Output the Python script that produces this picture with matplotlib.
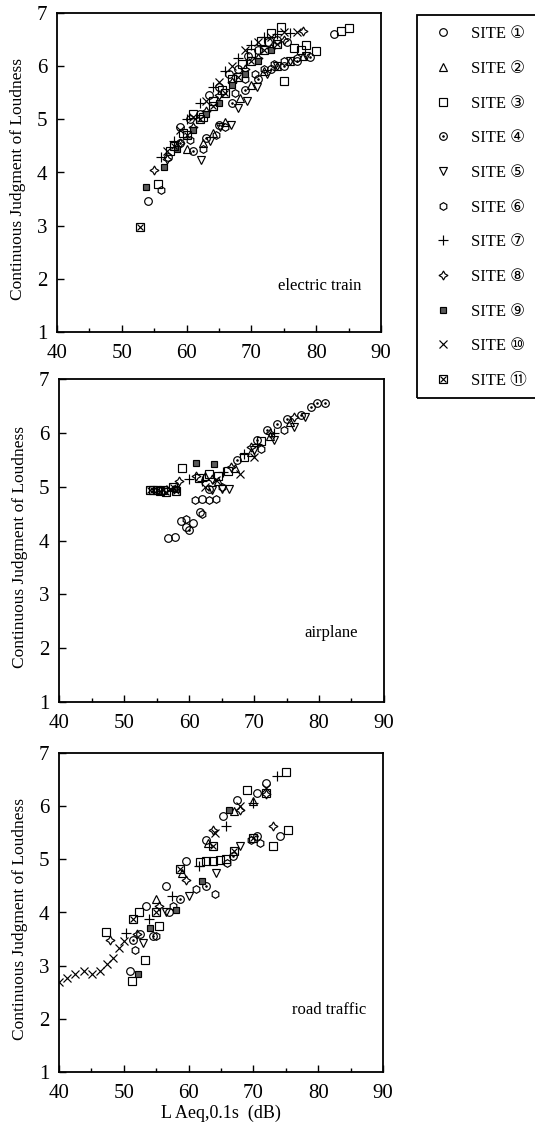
import matplotlib
matplotlib.use('Agg')
import matplotlib.pyplot as plt
from matplotlib.lines import Line2D
from matplotlib.patches import Rectangle
from matplotlib.ticker import MultipleLocator
from matplotlib.legend_handler import HandlerTuple

plt.rcParams['font.family'] = ['Liberation Serif', 'DejaVu Serif']

# ---------------- data: electric train ----------------
train_x1 = [54.0, 57.2, 59.0, 60.5, 62.0, 63.5, 65.0, 66.5, 68.0, 69.5, 71.0, 72.5, 74.0, 75.5, 82.8]
train_y1 = [3.47, 4.30, 4.85, 5.00, 5.10, 5.45, 5.60, 5.85, 5.95, 6.20, 6.30, 6.45, 6.50, 6.45, 6.60]
train_x2 = [60.0, 62.5, 64.0, 66.0, 68.2, 70.0, 72.0, 74.0, 76.0, 78.0]
train_y2 = [4.45, 4.55, 4.75, 4.95, 5.40, 5.65, 5.90, 6.00, 6.10, 6.20]
train_x3 = [55.6, 57.5, 59.5, 61.0, 62.6, 64.0, 65.5, 67.0, 68.5, 70.0, 71.5, 73.0, 74.5, 75.1, 76.5, 77.6, 78.5, 80.0, 83.8, 85.0]
train_y3 = [3.78, 4.40, 4.75, 5.10, 5.05, 5.35, 5.55, 5.75, 6.05, 6.25, 6.48, 6.62, 6.74, 5.72, 6.35, 6.30, 6.40, 6.28, 6.66, 6.72]
train_x4 = [59.0, 61.0, 63.0, 65.0, 67.0, 69.0, 71.0, 73.0, 75.0, 77.0, 79.0]
train_y4 = [4.55, 4.40, 4.65, 4.90, 5.30, 5.55, 5.75, 5.95, 6.00, 6.10, 6.18]
train_x5 = [62.2, 63.6, 65.2, 66.8, 68.0, 69.3, 70.8, 72.4, 74.0, 76.0, 78.5]
train_y5 = [4.24, 4.60, 4.85, 4.90, 5.22, 5.35, 5.60, 5.85, 6.00, 6.10, 6.20]
train_x6 = [56.0, 60.5, 62.5, 64.5, 66.0, 67.5, 69.0, 70.5, 72.0, 73.5, 75.0, 77.0]
train_y6 = [3.68, 4.62, 4.45, 4.70, 4.85, 5.50, 5.75, 5.85, 5.95, 6.05, 6.10, 6.15]
train_x7 = [56.0, 58.0, 60.0, 62.0, 64.0, 66.0, 68.0, 70.0, 72.0, 74.0, 76.0]
train_y7 = [4.30, 4.60, 5.00, 5.30, 5.60, 5.90, 6.15, 6.40, 6.55, 6.60, 6.62]
train_x8 = [55.0, 57.0, 59.0, 61.0, 63.0, 65.0, 67.0, 69.0, 71.0, 73.0, 75.0, 78.0]
train_y8 = [4.05, 4.25, 4.55, 4.85, 5.15, 5.45, 5.70, 5.95, 6.15, 6.35, 6.50, 6.67]
train_x9 = [53.8, 56.5, 58.5, 61.0, 63.0, 65.0, 67.0, 69.0, 71.0, 73.0]
train_y9 = [3.73, 4.10, 4.45, 4.80, 5.10, 5.30, 5.65, 5.85, 6.10, 6.30]
train_x10 = [57.0, 59.0, 61.0, 63.0, 65.0, 67.0, 69.0, 71.0, 73.0, 75.0, 77.0]
train_y10 = [4.40, 4.80, 5.05, 5.35, 5.70, 6.00, 6.30, 6.45, 6.55, 6.65, 6.65]
train_x11 = [52.8, 58.0, 60.0, 62.0, 64.0, 66.0, 68.0, 70.0, 72.0, 74.0]
train_y11 = [2.98, 4.50, 4.70, 5.00, 5.25, 5.50, 5.80, 6.10, 6.30, 6.42]

# ---------------- data: airplane ----------------
air_x1 = [56.8, 57.8, 58.8, 59.6, 60.6, 61.7, 62.0]
air_y1 = [4.05, 4.07, 4.37, 4.25, 4.33, 4.53, 4.78]
air_x2 = [62.5, 64.5, 67.0, 69.5, 72.5, 75.5]
air_y2 = [5.20, 5.10, 5.35, 5.65, 5.95, 6.20]
air_x3 = [58.9, 61.5, 63.0, 64.5, 66.0, 68.5, 71.0]
air_y3 = [5.34, 5.16, 5.24, 5.20, 5.30, 5.55, 5.85]
air_x4 = [60.0, 63.0, 67.4, 70.5, 72.0, 73.6, 75.1, 77.2, 78.7, 79.7, 81.0]
air_y4 = [4.20, 4.95, 5.49, 5.86, 6.05, 6.17, 6.26, 6.33, 6.48, 6.55, 6.56]
air_x5 = [63.6, 65.0, 66.1, 70.0, 73.0, 76.1, 77.9]
air_y5 = [4.94, 4.95, 4.95, 5.68, 5.86, 6.11, 6.30]
air_x6 = [59.5, 60.9, 62.0, 63.1, 64.1, 65.1, 71.0, 74.6]
air_y6 = [4.40, 4.75, 4.50, 4.75, 4.78, 5.00, 5.70, 6.05]
air_x7 = [60.0, 62.0, 65.3, 68.4, 70.5, 73.0]
air_y7 = [5.15, 5.10, 5.28, 5.61, 5.80, 6.00]
air_x8 = [58.5, 61.0, 63.5, 66.4, 69.5, 72.5, 76.2]
air_y8 = [5.10, 5.20, 5.15, 5.37, 5.74, 6.00, 6.30]
air_x9 = [61.0, 63.8, 58.0]
air_y9 = [5.44, 5.42, 4.95]
air_x10 = [57.0, 62.5, 64.1, 67.9, 70.0]
air_y10 = [4.95, 5.00, 5.12, 5.24, 5.55]
air_x11 = [54.0, 54.5, 55.0, 55.5, 56.0, 56.5, 57.5, 58.0]
air_y11 = [4.93, 4.93, 4.93, 4.92, 4.93, 4.91, 5.00, 4.92]

# ---------------- data: road traffic ----------------
road_x1 = [51.0, 53.4, 56.5, 59.6, 62.7, 65.3, 67.4, 70.5, 72.0, 74.1, 52.5, 57.0]
road_y1 = [2.90, 4.12, 4.50, 4.97, 5.37, 5.81, 6.12, 6.25, 6.44, 5.44, 3.60, 4.00]
road_x2 = [55.0, 59.0, 63.0, 67.0, 70.0]
road_y2 = [4.25, 4.75, 5.30, 5.90, 6.10]
road_x3 = [47.3, 51.3, 53.2, 52.4, 55.5, 61.7, 62.7, 63.7, 64.8, 65.8, 69.0, 73.1, 75.4, 75.1, 72.0]
road_y3 = [3.64, 2.72, 3.10, 4.00, 3.74, 4.95, 4.97, 4.96, 4.98, 5.00, 6.31, 5.25, 5.56, 6.65, 6.25]
road_x4 = [51.4, 54.5, 58.6, 62.7, 66.9, 70.5]
road_y4 = [3.49, 3.55, 4.25, 4.50, 5.06, 5.44]
road_x5 = [52.9, 56.5, 60.1, 64.3, 68.0]
road_y5 = [3.43, 4.00, 4.31, 4.75, 5.25]
road_x6 = [51.8, 55.0, 57.6, 61.2, 64.0, 65.9, 69.6, 71.0]
road_y6 = [3.30, 3.55, 4.12, 4.44, 4.34, 4.94, 5.37, 5.30]
road_x7 = [50.4, 53.9, 57.5, 61.6, 65.8, 70.0, 73.6]
road_y7 = [3.61, 3.87, 4.31, 4.87, 5.62, 6.06, 6.56]
road_x8 = [47.9, 52.0, 55.4, 59.6, 63.8, 67.9, 72.0, 73.1]
road_y8 = [3.49, 3.60, 4.12, 4.62, 5.56, 5.93, 6.22, 5.62]
road_x9 = [52.2, 54.0, 58.0, 62.0, 66.3]
road_y9 = [2.85, 3.70, 4.05, 4.60, 5.93]
road_x10 = [40.0, 41.2, 42.5, 43.8, 45.1, 46.4, 47.4, 48.4, 49.2, 50.0, 64.0, 68.0, 72.0]
road_y10 = [2.70, 2.77, 2.85, 2.90, 2.85, 2.90, 3.03, 3.15, 3.34, 3.46, 5.50, 6.00, 6.35]
road_x11 = [51.4, 55.0, 58.6, 63.8, 67.0, 70.0]
road_y11 = [3.87, 4.00, 4.81, 5.25, 5.15, 5.40]

site_labels = ['SITE \u2460', 'SITE \u2461', 'SITE \u2462', 'SITE \u2463', 'SITE \u2464',
               'SITE \u2465', 'SITE \u2466', 'SITE \u2467', 'SITE \u2468', 'SITE \u2469',
               'SITE \u246a']
panel_names = ['electric train', 'airplane', 'road traffic']
x_ticks = [40, 50, 60, 70, 80, 90]
y_ticks = [1, 2, 3, 4, 5, 6, 7]

train = [(train_x1, train_y1), (train_x2, train_y2), (train_x3, train_y3), (train_x4, train_y4),
         (train_x5, train_y5), (train_x6, train_y6), (train_x7, train_y7), (train_x8, train_y8),
         (train_x9, train_y9), (train_x10, train_y10), (train_x11, train_y11)]
air = [(air_x1, air_y1), (air_x2, air_y2), (air_x3, air_y3), (air_x4, air_y4),
       (air_x5, air_y5), (air_x6, air_y6), (air_x7, air_y7), (air_x8, air_y8),
       (air_x9, air_y9), (air_x10, air_y10), (air_x11, air_y11)]
road = [(road_x1, road_y1), (road_x2, road_y2), (road_x3, road_y3), (road_x4, road_y4),
        (road_x5, road_y5), (road_x6, road_y6), (road_x7, road_y7), (road_x8, road_y8),
        (road_x9, road_y9), (road_x10, road_y10), (road_x11, road_y11)]

MS = 5.5
MEW = 0.85
styles = [
    [dict(marker='o', ms=MS, mfc='none')],
    [dict(marker='^', ms=MS, mfc='none')],
    [dict(marker='s', ms=MS, mfc='none')],
    [dict(marker='o', ms=MS, mfc='none'), dict(marker='.', ms=2.0, mfc='k')],
    [dict(marker='v', ms=MS, mfc='none')],
    [dict(marker='h', ms=MS, mfc='none')],
    [dict(marker='+', ms=MS + 1)],
    [dict(marker=(4, 1, 0), ms=MS + 1, mfc='none')],
    [dict(marker='s', ms=MS - 0.5, mfc='0.35')],
    [dict(marker='x', ms=MS)],
    [dict(marker='s', ms=MS, mfc='none'), dict(marker='x', ms=MS - 1.5)],
]

fig = plt.figure(figsize=(5.35, 11.27), dpi=100)
W, H = 535.0, 1127.0
rects = [
    [57 / W, 1 - 332 / H, 324 / W, 319 / H],
    [59 / W, 1 - 702 / H, 325 / W, 323 / H],
    [59 / W, 1 - 1072 / H, 324 / W, 319 / H],
]
text_pos = [(0.81, 0.144), (0.838, 0.214), (0.833, 0.194)]

for i, (data, rect) in enumerate(zip([train, air, road], rects)):
    ax = fig.add_axes(rect)
    for s, (xs, ys) in enumerate(data):
        for layer in styles[s]:
            ax.plot(xs, ys, ls='none', color='k', mec='k', mew=MEW, **layer)
    ax.set_xlim(40, 90)
    ax.set_ylim(1, 7)
    ax.set_xticks(x_ticks)
    ax.set_yticks(y_ticks)
    ax.xaxis.set_minor_locator(MultipleLocator(5))
    ax.tick_params(which='major', direction='in', length=5, width=1.0, labelsize=15, pad=7)
    ax.tick_params(which='minor', direction='in', length=3, width=1.0)
    ax.tick_params(axis='x', pad=9)
    for sp in ax.spines.values():
        sp.set_linewidth(1.3)
    ax.set_ylabel('Continuous Judgment of Loudness', fontsize=12.5)
    ax.yaxis.set_label_coords(-0.096, 0.48)
    ax.text(text_pos[i][0], text_pos[i][1], panel_names[i], transform=ax.transAxes,
            ha='center', va='center', fontsize=12)
    if i == 2:
        ax.set_xlabel('L Aeq,0.1s  (dB)', fontsize=13, labelpad=1)

handles = []
for s in range(11):
    hs = tuple(Line2D([], [], ls='none', color='k', mec='k', mew=MEW, **layer) for layer in styles[s])
    handles.append(hs if len(hs) > 1 else hs[0])
leg = fig.legend(handles, site_labels, loc='upper left',
                 bbox_to_anchor=(417.5 / W, 1 - 11.2 / H), frameon=False,
                 prop=dict(family=['Liberation Serif', 'DejaVu Sans', 'Noto Sans CJK JP'], size=12),
                 labelspacing=1.12, handlelength=1.2, handletextpad=1.1, borderpad=0.4,
                 handler_map={tuple: HandlerTuple(ndivide=1, pad=0)})
fig.patches.append(Rectangle((417 / W, 1 - 398 / H), 130 / W, 383 / H,
                             transform=fig.transFigure, fill=False, ec='k', lw=1.3))

fig.savefig('out.png', dpi=100)
